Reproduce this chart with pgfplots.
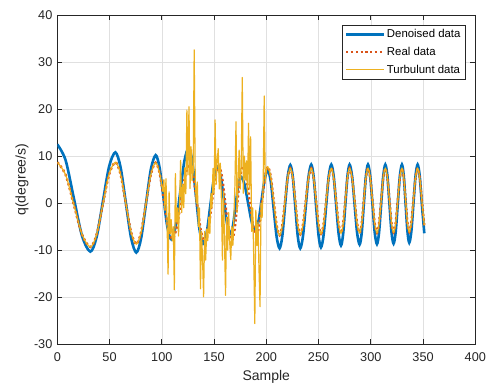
\documentclass[border=0pt]{standalone}
\usepackage{pgfplots}
\pgfplotsset{compat=1.18}
\usepackage{fontspec}
\setmainfont{Liberation Sans}
\definecolor{mblue}{HTML}{0072BD}
\definecolor{morange}{HTML}{D95319}
\definecolor{myellow}{HTML}{EDB120}
\definecolor{axc}{HTML}{262626}
\definecolor{gridc}{HTML}{E0E0E0}
\begin{document}
\begin{tikzpicture}
\useasboundingbox (-57.3pt,-38.7pt) rectangle (431.7pt,344.3pt);
\begin{axis}[
 scale only axis, width=418pt, height=329.3pt,
 xmin=0,xmax=400,ymin=-30,ymax=40,
 xtick={0,50,...,400}, ytick={-30,-20,...,40},
 grid=major, major grid style={color=gridc, line width=0.6pt},
 axis line style={color=axc, line width=0.9pt},
 tick style={color=axc, line width=0.8pt},
 tick align=inside, major tick length=5pt,
 /pgf/number format/assume math mode=true,
 ticklabel style={font=\fontsize{12.7}{15}\selectfont, color=axc},
 xticklabel style={yshift=-4.5pt},
 yticklabel style={xshift=-1.4pt},
 label style={font=\fontsize{14}{16}\selectfont, color=axc},
 xlabel={Sample}, ylabel={q(degree/s)},
 xlabel style={at={(axis description cs:0.5,0)}, anchor=north, inner sep=0pt, yshift=-25.8pt},
 ylabel style={at={(axis description cs:-0.0845,0.5)}, anchor=center, inner sep=0pt},
 legend style={at={(rel axis cs:0.976,0.970)}, anchor=north east, draw=axc, line width=0.6pt, fill=white,
   font=\fontsize{11.4}{13}\selectfont, inner xsep=3pt, inner ysep=3pt, row sep=4.8pt, nodes={inner sep=1.5pt}},
 legend cell align=left,
 legend image code/.code={\draw[#1] (0pt,0pt) -- (38pt,0pt);},
]
% Denoised data
\addplot[color=mblue, line width=2.6pt, smooth] coordinates {
(0,12.5) (7.9,9.17) (15.8,1.1) (23.7,-6.97) (31.6,-10.3) (37.6,-7.22) (43.55,0.25) (49.5,7.72) (55.5,10.8) (60.5,7.69) (65.55,0.15) (70.6,-7.39) (75.6,-10.5) (80.2,-7.48) (84.85,-0.15) (89.5,7.17) (94.1,10.2) (97.85,7.59) (101.6,1.25) (105.35,-5.09) (109.1,-7.7) (113.3,-4.85) (117.45,2.05) (121.6,8.95) (125.8,11.8) (129.2,8.82) (132.65,1.6) (136.1,-5.62) (139.5,-8.6) (143,-6.22) (146.45,-0.45) (149.9,5.32) (153.4,7.7) (156.4,5.63) (159.45,0.6) (162.5,-4.43) (165.5,-6.5) (168.1,-4.73) (170.65,-0.45) (173.2,3.83) (175.8,5.6) (179.2,3.95) (182.65,-0.05) (186.1,-4.05) (189.5,-5.7) (192.5,-3.85) (195.5,0.65) (198.5,5.15) (201.5,7.0) (204.3,4.58) (207.1,-1.3) (209.9,-7.17) (212.7,-9.6) (215.3,-7.02) (217.85,-0.75) (220.4,5.51) (223,8.1) (225.4,5.52) (227.75,-0.75) (230.1,-7.01) (232.5,-9.6) (235.1,-7.0) (237.75,-0.7) (240.4,5.6) (243,8.2) (245.3,5.63) (247.65,-0.6) (250,-6.83) (252.3,-9.4) (254.8,-6.83) (257.25,-0.6) (259.7,5.63) (262.2,8.2) (264.5,5.69) (266.85,-0.4) (269.2,-6.48) (271.5,-9.0) (273.55,-6.49) (275.6,-0.4) (277.65,5.69) (279.7,8.2) (282.1,5.72) (284.5,-0.3) (286.9,-6.32) (289.3,-8.8) (291.3,-6.32) (293.3,-0.3) (295.3,5.72) (297.3,8.2) (299.45,5.73) (301.6,-0.25) (303.75,-6.23) (305.9,-8.7) (307.9,-6.23) (309.9,-0.25) (311.9,5.73) (313.9,8.2) (315.9,5.75) (317.85,-0.2) (319.8,-6.15) (321.8,-8.6) (323.8,-6.15) (325.8,-0.2) (327.8,5.75) (329.8,8.2) (331.55,5.78) (333.3,-0.1) (335.05,-5.97) (336.8,-8.4) (338.8,-5.97) (340.8,-0.1) (342.8,5.78) (344.8,8.2) (346.8,5.79) (348.8,-0.05) (351.2,-6.4)
};
\addlegendentry{Denoised data}
% Real data
\addplot[color=morange, line width=2.4pt, dash pattern=on 2.2pt off 2.6pt, smooth] coordinates {
(0,8.7) (7.9,6.07) (15.8,-0.3) (23.7,-6.67) (31.6,-9.3) (37.6,-6.67) (43.55,-0.3) (49.5,6.07) (55.5,8.7) (60.5,6.16) (65.55,0) (70.6,-6.16) (75.6,-8.7) (80.2,-6.17) (84.85,-0.05) (89.5,6.07) (94.1,8.6) (98.08,6.23) (102.05,0.5) (106.03,-5.23) (110,-7.6) (114.13,-5.3) (118.25,0.25) (122.38,5.8) (126.5,8.1) (130.13,5.71) (133.75,-0.05) (137.38,-5.82) (141,-8.2) (144.38,-5.84) (147.75,-0.15) (151.13,5.54) (154.5,7.9) (157.63,5.59) (160.75,0) (163.88,-5.59) (167,-7.9) (169.63,-5.62) (172.25,-0.1) (174.88,5.42) (177.5,7.7) (180.75,5.58) (184,0.45) (187.25,-4.68) (190.5,-6.8) (193.25,-4.68) (196,0.45) (198.75,5.58) (201.5,7.7) (204.3,5.58) (207.1,0.45) (209.9,-4.68) (212.7,-6.8) (215.3,-4.72) (217.85,0.3) (220.4,5.32) (223,7.4) (225.4,5.35) (227.75,0.4) (230.1,-4.56) (232.5,-6.6) (235.1,-4.55) (237.75,0.4) (240.4,5.35) (243,7.4) (245.3,5.37) (247.65,0.45) (250,-4.47) (252.3,-6.5) (254.8,-4.47) (257.25,0.45) (259.7,5.37) (262.2,7.4) (264.5,5.38) (266.85,0.5) (269.2,-4.38) (271.5,-6.4) (273.55,-4.38) (275.6,0.5) (277.65,5.38) (279.7,7.4) (282.1,5.4) (284.5,0.55) (286.9,-4.3) (289.3,-6.3) (291.3,-4.3) (293.3,0.55) (295.3,5.4) (297.3,7.4) (299.45,5.4) (301.6,0.55) (303.75,-4.3) (305.9,-6.3) (307.9,-4.3) (309.9,0.55) (311.9,5.4) (313.9,7.4) (315.9,5.41) (317.85,0.6) (319.8,-4.21) (321.8,-6.2) (323.8,-4.21) (325.8,0.6) (327.8,5.41) (329.8,7.4) (331.55,5.43) (333.3,0.65) (335.05,-4.13) (336.8,-6.1) (338.8,-4.13) (340.8,0.65) (342.8,5.43) (344.8,7.4) (346.8,5.44) (348.8,0.7) (351.2,-4.7)
};
\addlegendentry{Real data}
% Turbulunt data (noisy part)
\addplot[color=myellow, line width=1.2pt, line join=round] coordinates {
(100,3.7) (101,2.5) (102,5.0) (103,-1.5) (104,5.2) (105,-4.0) (106,-15.1) (107,2.4) (108,-6.5) (109,-3.5) (110,-8.0) (111,-5.0) (112,-18.4) (113,6.3) (114,-4.0) (115,-1.0) (116,-7.0) (117,0.5) (118,9.1) (119,-2.0) (120,4.0) (121,-1.0) (122,7.5) (123,2.0) (124,19.8) (125,6.0) (126,20.5) (127,3.1) (128,12.0) (129,4.8) (130,6.5) (131,32.6) (132,4.8) (133,0.0) (134,4.5) (135,-5.0) (136,-1.0) (137,-18.2) (138,-6.0) (139,-12.0) (140,-19.9) (141,-6.0) (142,-12.1) (143,-5.5) (144,-8.0) (145,-3.0) (146,-6.5) (147,2.0) (148,-1.0) (149,7.4) (150,2.0) (151,17.7) (152,4.0) (153,9.0) (154,11.6) (155,3.0) (156,8.5) (157,1.0) (158,-12.1) (159,2.5) (160,-8.0) (161,-19.6) (162,-3.0) (163,-10.0) (164,-2.0) (165,-8.5) (166,-12.0) (167,-5.0) (168,-9.0) (169,-3.0) (170,4.0) (171,17.3) (172,-2.0) (173,5.0) (174,11.3) (175,3.0) (176,8.0) (177,26.7) (178,2.1) (179,10.0) (180,5.0) (181,9.0) (182,2.0) (183,17.0) (184,3.0) (185,14.1) (186,-6.0) (187,-1.0) (188,-12.0) (189,-25.6) (190,-1.5) (191,-9.0) (192,-4.0) (193,-14.0) (194,-22.0) (195,0.0) (196,-3.0) (197,4.0) (198,22.8) (199,4.5) (200,7.0) (201,7.8) (202,7.6)
};
\addlegendentry{Turbulunt data}
\addplot[color=myellow, line width=1.2pt, smooth, forget plot] coordinates {
(0,8.7) (7.9,6.07) (15.8,-0.3) (23.7,-6.67) (31.6,-9.3) (37.6,-6.67) (43.55,-0.3) (49.5,6.07) (55.5,8.7) (60.5,6.16) (65.55,0) (70.6,-6.16) (75.6,-8.7) (80.2,-6.17) (84.85,-0.05) (89.5,6.07) (94.1,8.6) (98.08,6.23) (100,3.7)
};
\addplot[color=myellow, line width=1.2pt, smooth, forget plot] coordinates {
(202,7.6) (204.3,5.58) (207.1,0.45) (209.9,-4.68) (212.7,-6.8) (215.3,-4.72) (217.85,0.3) (220.4,5.32) (223,7.4) (225.4,5.35) (227.75,0.4) (230.1,-4.56) (232.5,-6.6) (235.1,-4.55) (237.75,0.4) (240.4,5.35) (243,7.4) (245.3,5.37) (247.65,0.45) (250,-4.47) (252.3,-6.5) (254.8,-4.47) (257.25,0.45) (259.7,5.37) (262.2,7.4) (264.5,5.38) (266.85,0.5) (269.2,-4.38) (271.5,-6.4) (273.55,-4.38) (275.6,0.5) (277.65,5.38) (279.7,7.4) (282.1,5.4) (284.5,0.55) (286.9,-4.3) (289.3,-6.3) (291.3,-4.3) (293.3,0.55) (295.3,5.4) (297.3,7.4) (299.45,5.4) (301.6,0.55) (303.75,-4.3) (305.9,-6.3) (307.9,-4.3) (309.9,0.55) (311.9,5.4) (313.9,7.4) (315.9,5.41) (317.85,0.6) (319.8,-4.21) (321.8,-6.2) (323.8,-4.21) (325.8,0.6) (327.8,5.41) (329.8,7.4) (331.55,5.43) (333.3,0.65) (335.05,-4.13) (336.8,-6.1) (338.8,-4.13) (340.8,0.65) (342.8,5.43) (344.8,7.4) (346.8,5.44) (348.8,0.7) (351.2,-4.7)
};
\end{axis}
\end{tikzpicture}
\end{document}
